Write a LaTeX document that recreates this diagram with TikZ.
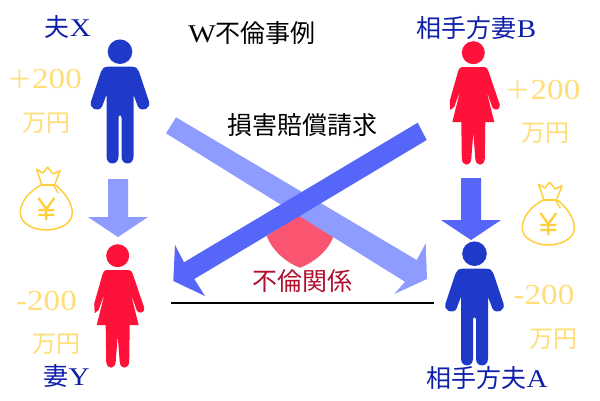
\documentclass[tikz,border=0pt]{standalone}
\usepackage{fontspec}
\setmainfont{Liberation Serif}
\newfontfamily\cjk{Noto Sans CJK JP}
\newfontfamily\wide{Liberation Serif}[FakeStretch=1.14]
\newcommand{\lat}[1]{{\wide\fontsize{25.5}{25.5}\selectfont #1}}
\definecolor{navy}{HTML}{0F1FA8}
\definecolor{manblue}{HTML}{1F3AC8}
\definecolor{womanred}{HTML}{FF1239}
\definecolor{lightarrow}{HTML}{8E9BFF}
\definecolor{darkarrow}{HTML}{5566F8}
\definecolor{gold}{HTML}{FFDD77}
\definecolor{bag}{HTML}{FFCE3C}
\definecolor{heartc}{HTML}{F95470}
\definecolor{wine}{HTML}{B01030}
% #1,#2 = centre of the head
\newcommand{\man}[3]{%
 \begin{scope}[shift={(#1,#2)}]
 \fill[#3] (0,0) circle (12.3);
 \fill[#3] (-12,15) -- (12,15) .. controls (16,15) and (18,17) .. (19,20)
  -- (29,50) .. controls (31,57) and (22,61) .. (18,55)
  -- (13.5,43) -- (13.5,105) .. controls (13.5,114) and (1.5,114) .. (1.5,105)
  -- (1.5,66) .. controls (1.5,63) and (-1.5,63) .. (-1.5,66)
  -- (-1.5,105) .. controls (-1.5,114) and (-13.5,114) .. (-13.5,105)
  -- (-13.5,43) -- (-18,55) .. controls (-22,61) and (-31,57) .. (-29,50)
  -- (-19,20) .. controls (-18,17) and (-16,15) .. (-12,15) -- cycle;
 \end{scope}}
\newcommand{\woman}[3]{%
 \begin{scope}[shift={(#1,#2)}]
 \fill[#3] (0,0) circle (11.5);
 \fill[#3] (-11,14.3) -- (11,14.3) .. controls (13,14.3) and (14,15.5) .. (15,18)
  -- (26.5,52) .. controls (27.5,57) and (21,59) .. (19,54.5)
  -- (13,37.5) -- (21,69.5) -- (12,69.5)
  -- (11.5,106) .. controls (11,114) and (2.5,114) .. (2,106)
  -- (0,80) -- (-2,106) .. controls (-2.5,114) and (-11,114) .. (-11.5,106)
  -- (-12,69.5) -- (-21,69.5) -- (-13,37.5)
  -- (-19,54) -- (-23,57.5) -- (-23.5,48)
  -- (-15,18) .. controls (-14,15.5) and (-13,14.3) .. (-11,14.3) -- cycle;
 \end{scope}}
% #1,#2 = neck of the bag
\newcommand{\moneybag}[2]{%
 \begin{scope}[shift={(#1,#2)},line width=1.5pt,bag,line join=round]
 \draw (-4.7,0) -- (-9.7,-14.7) -- (-3.5,-11) -- (1.3,-16.7) -- (7,-10) -- (13.7,-13.3) -- (8.7,0);
 \draw (-5,1) -- (9,1);
 \draw (-5,1) .. controls (-17,7) and (-26,18) .. (-26,29) .. controls (-26,40) and (-12,46) .. (0,46) .. controls (12,46) and (26,40) .. (26,29) .. controls (26,18) and (17,7) .. (9,1);
 \draw (7,1) -- (12,9);
 \draw[line width=2.3pt] (-8,14) -- (0,25) -- (8,14) (0,25) -- (0,36) (-8,26) -- (8,26) (-8,31) -- (8,31);
 \end{scope}}
\begin{document}
\begin{tikzpicture}[x=1pt,y=-1pt,
 every node/.style={inner sep=0pt,outer sep=0pt},
 nametxt/.style={text=navy,font=\fontsize{25}{25}\selectfont,anchor=center},
 money/.style={text=gold,font=\wide\fontsize{29}{29}\selectfont,anchor=center},
 yen/.style={text=gold,font=\fontsize{24}{24}\selectfont,anchor=center},
 darktxt/.style={text=black,font=\fontsize{25}{25}\selectfont,anchor=center}]
\useasboundingbox (0,0) rectangle (600,400);
% heart
\fill[heartc] (300,215) -- (266.7,236) .. controls (272,250) and (285,262) .. (300,267.7) .. controls (315,262) and (329,250) .. (334,235) -- cycle;
% vertical arrows
\fill[lightarrow] (108,179) -- (128,179) -- (128,217) -- (148,217) -- (118,237) -- (88,217) -- (108,217) -- cycle;
\fill[darkarrow] (461,178) -- (481,178) -- (481,220) -- (501,220) -- (471,240) -- (441,220) -- (461,220) -- cycle;
% diagonals
\fill[lightarrow] (176,117.3) -- (416.7,260) -- (425.7,243.3) -- (427,279) -- (394.3,294) -- (405,281.7) -- (166,133.3) -- cycle;
\fill[darkarrow] (417.7,122.7) -- (426.7,140) -- (194.3,279) -- (205,296) -- (173.3,281) -- (175,245) -- (184,262.3) -- cycle;
% line
\draw[line width=2pt,black] (171,302.7) -- (434,302.7);
% figures
\man{120}{51.7}{manblue}
\man{474.5}{253.7}{manblue}
\woman{117.7}{255.7}{womanred}
\woman{473.3}{52.7}{womanred}
\moneybag{46.3}{184}
\moneybag{548.3}{199}
% text
\node[nametxt] (x) at (67.8,27) {\cjk 夫\lat{X}};
\node[nametxt] (y) at (66.5,376) {\cjk 妻\lat{Y}};
\node[nametxt] (b) at (476.5,28) {\cjk 相手方妻\lat{B}};
\node[nametxt] (a) at (487,378) {\cjk 相手方夫\lat{A}};
\node[darktxt] (t) at (252,33) {\lat{W}\cjk 不倫事例};
\node[darktxt] (d) at (302,125) {\cjk 損害賠償請求};
\node[darktxt,text=wine] (f) at (302,281) {\cjk 不倫関係};
\node[money] (m1) at (44.5,79) {{\cjk\fontsize{25}{25}\selectfont ＋}200};
\node[yen] (y1) at (46,123) {\cjk 万円};
\node[money] (m2) at (543,90) {{\cjk\fontsize{25}{25}\selectfont ＋}200};
\node[yen] (y2) at (545,133) {\cjk 万円};
\node[money] (m3) at (46.5,301) {-200};
\node[yen] (y3) at (56,344) {\cjk 万円};
\node[money] (m4) at (544,295) {-200};
\node[yen] (y4) at (553,339) {\cjk 万円};
\end{tikzpicture}
\end{document}
